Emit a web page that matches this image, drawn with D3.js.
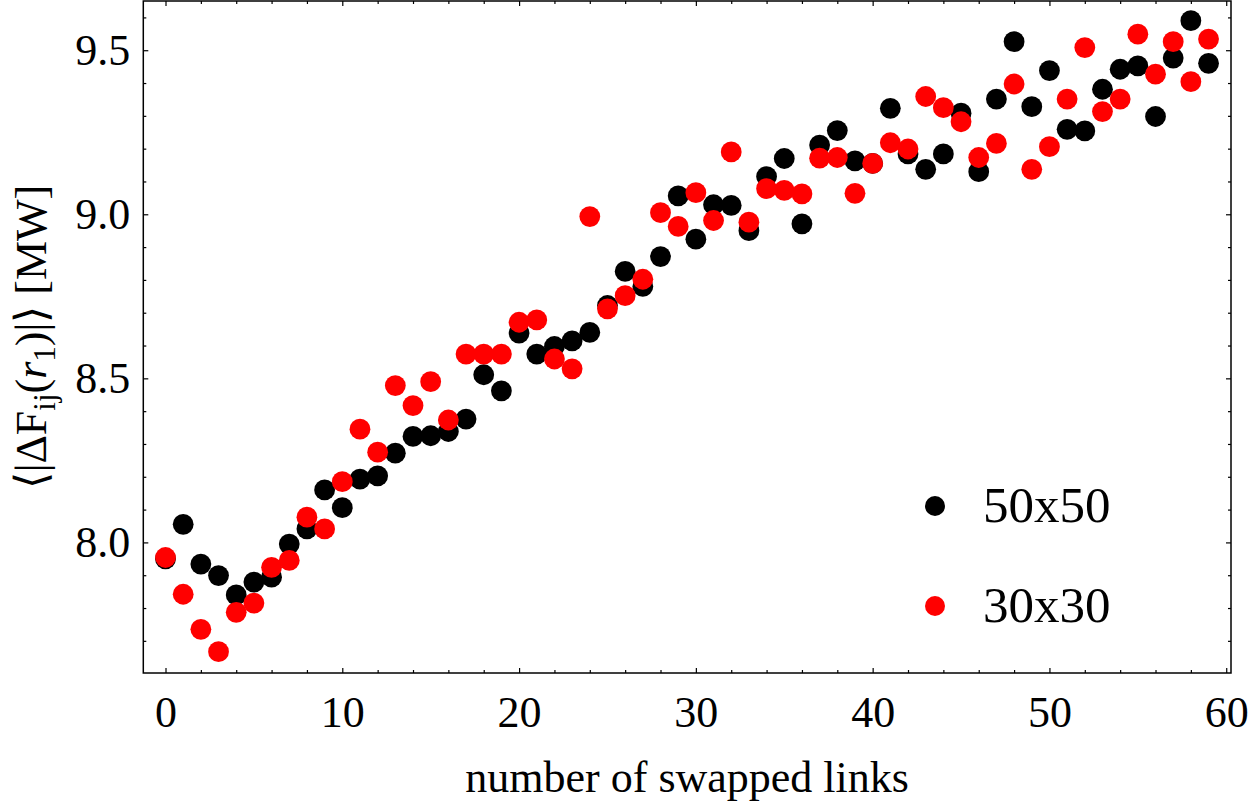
<!DOCTYPE html>
<html>
<head>
<meta charset="utf-8">
<script src="https://cdn.jsdelivr.net/npm/d3@7"></script>
<style>
  body { margin: 0; background: #fff; }
  svg { display: block; }
  text { font-family: "Liberation Serif", "Times New Roman", serif; fill: #000; }
</style>
</head>
<body>
<div id="chart"></div>
<script>
// number of swapped links (x)
var swaps = [0, 1, 2, 3, 4, 5, 6, 7, 8, 9,
  10, 11, 12, 13, 14, 15, 16, 17, 18, 19,
  20, 21, 22, 23, 24, 25, 26, 27, 28, 29,
  30, 31, 32, 33, 34, 35, 36, 37, 38, 39,
  40, 41, 42, 43, 44, 45, 46, 47, 48, 49,
  50, 51, 52, 53, 54, 55, 56, 57, 58, 59];

// <|dF_ij(r1)|> in MW, 50x50 lattice
var grid50 = [7.950, 8.055, 7.934, 7.899, 7.840, 7.879, 7.894, 7.995, 8.041, 8.160,
  8.106, 8.193, 8.203, 8.272, 8.323, 8.325, 8.338, 8.376, 8.511, 8.462,
  8.638, 8.574, 8.597, 8.614, 8.640, 8.722, 8.826, 8.780, 8.871, 9.056,
  8.924, 9.029, 9.027, 8.950, 9.115, 9.170, 8.971, 9.211, 9.255, 9.163,
  9.155, 9.323, 9.184, 9.137, 9.184, 9.308, 9.130, 9.351, 9.526, 9.328,
  9.438, 9.259, 9.254, 9.381, 9.442, 9.452, 9.298, 9.476, 9.590, 9.460];

// same for 30x30 lattice
var grid30 = [7.954, 7.842, 7.735, 7.667, 7.787, 7.815, 7.924, 7.945, 8.077, 8.041,
  8.185, 8.345, 8.275, 8.478, 8.417, 8.490, 8.373, 8.574, 8.574, 8.574,
  8.671, 8.678, 8.559, 8.529, 8.993, 8.712, 8.752, 8.802, 9.005, 8.963,
  9.066, 8.981, 9.190, 8.976, 9.078, 9.073, 9.062, 9.171, 9.173, 9.064,
  9.155, 9.218, 9.199, 9.359, 9.325, 9.282, 9.173, 9.216, 9.397, 9.137,
  9.206, 9.351, 9.508, 9.313, 9.351, 9.549, 9.427, 9.526, 9.404, 9.534];

var seriesNames = ["50x50", "30x30"];
var seriesColors = ["#000000", "#ff0000"];

var xMajor = [0, 10, 20, 30, 40, 50, 60];
var xMinor = [2, 4, 6, 8, 12, 14, 16, 18, 22, 24, 26, 28, 32, 34, 36, 38,
  42, 44, 46, 48, 52, 54, 56, 58];
var yMajor = [8.0, 8.5, 9.0, 9.5];
var yMinor = [7.7, 7.8, 7.9, 8.1, 8.2, 8.3, 8.4, 8.6, 8.7, 8.8, 8.9,
  9.1, 9.2, 9.3, 9.4, 9.6];

var W = 1250, H = 806;
var plotL = 143.3, plotR = 1231, plotT = 1, plotB = 673;

var svg = d3.select("#chart").append("svg")
  .attr("width", W).attr("height", H);

var x = d3.scaleLinear().domain([-1.256, 60.27]).range([plotL, plotR]);
var y = d3.scaleLinear().domain([7.602, 9.650]).range([plotB, plotT]);

// ticks, all pointing inward like a Mathematica frame
function tickAxis(axis, pos, values, size, fmt, pad) {
  var g = svg.append("g").attr("transform", pos)
    .call(axis.tickValues(values).tickSizeInner(-size).tickSizeOuter(0)
      .tickPadding(pad || 0)
      .tickFormat(fmt || function() { return ""; }));
  g.select(".domain").remove();
  g.selectAll("line").attr("stroke", "#000").attr("stroke-width", 1.2);
  g.selectAll("text").attr("font-size", 44).attr("font-family", null);
  return g;
}
tickAxis(d3.axisBottom(x), "translate(0," + plotB + ")", xMajor, 5, d3.format("d"), 23);
tickAxis(d3.axisBottom(x), "translate(0," + plotB + ")", xMinor, 3);
tickAxis(d3.axisTop(x), "translate(0," + plotT + ")", xMajor, 5);
tickAxis(d3.axisTop(x), "translate(0," + plotT + ")", xMinor, 3);
tickAxis(d3.axisLeft(y), "translate(" + plotL + ",0)", yMajor, 5, d3.format(".1f"), 13);
tickAxis(d3.axisLeft(y), "translate(" + plotL + ",0)", yMinor, 3);
tickAxis(d3.axisRight(y), "translate(" + plotR + ",0)", yMajor, 5);
tickAxis(d3.axisRight(y), "translate(" + plotR + ",0)", yMinor, 3);

// frame
svg.append("rect")
  .attr("x", plotL).attr("y", plotT)
  .attr("width", plotR - plotL).attr("height", plotB - plotT)
  .attr("fill", "none").attr("stroke", "#000").attr("stroke-width", 1.5);

// points: black first, red on top
var all = [grid50, grid30];
all.forEach(function(vals, i) {
  svg.append("g").selectAll("circle")
    .data(swaps)
    .join("circle")
    .attr("cx", function(d) { return x(d); })
    .attr("cy", function(d, j) { return y(vals[j]); })
    .attr("r", 10.4)
    .attr("fill", seriesColors[i]);
});

// legend
var leg = svg.append("g");
seriesNames.forEach(function(name, i) {
  var cy = 506 + i * 100;
  leg.append("circle").attr("cx", 935).attr("cy", cy).attr("r", 10)
    .attr("fill", seriesColors[i]);
  leg.append("text").attr("x", 983).attr("y", cy + 16)
    .attr("font-size", 51).text(name);
});

// axis titles
svg.append("text")
  .attr("x", (plotL + plotR) / 2).attr("y", 792)
  .attr("text-anchor", "middle").attr("font-size", 44)
  .text("number of swapped links");

var yl = svg.append("text")
  .attr("transform", "translate(46," + ((plotT + plotB) / 2) + ") rotate(-90)")
  .attr("text-anchor", "middle").attr("font-size", 44);
yl.append("tspan").text("\u27E8|\u0394F");
yl.append("tspan").attr("font-size", 31).attr("dy", 9).text("ij");
yl.append("tspan").attr("dy", -9).text("(");
yl.append("tspan").attr("font-style", "italic").text("r");
yl.append("tspan").attr("font-size", 31).attr("dy", 9).text("1");
yl.append("tspan").attr("dy", -9).text(")|\u27E9 [MW]");
</script>
</body>
</html>
